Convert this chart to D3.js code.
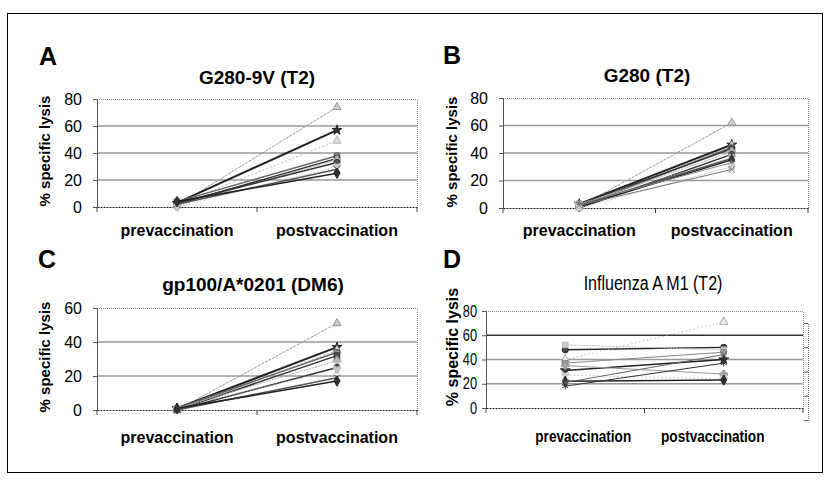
<!DOCTYPE html>
<html>
<head>
<meta charset="utf-8">
<script src="https://cdn.jsdelivr.net/npm/d3@7"></script>
<style>
  body { margin: 0; background: #fff; }
  svg { font-family: "Liberation Sans", Arial, sans-serif; }
</style>
</head>
<body>
<svg id="fig" width="830" height="480"></svg>
<script>
// categories on the x axis of every panel
var categories = ["prevaccination", "postvaccination"];

// A: G280-9V (T2)
var aPre  = [1, 3, 2, 4, 2, 1, 3, 0, 2, 4];
var aPost = [74, 57, 49, 38, 36, 35, 33, 30, 28, 25];

// B: G280 (T2)
var bPre  = [1, 3, 2, 1, 3, 2, 0, 3, 2, 1, 3, 0, 2];
var bPost = [62, 46, 45, 44, 43, 41, 39, 37, 36, 35, 33, 30, 28];

// C: gp100/A*0201 (DM6)
var cPre  = [0, 1, 0, 1, 0, 1, 0, 1, 0, 1];
var cPost = [51, 37, 35, 34, 32, 29, 25, 24, 19, 17];

// D: Influenza A M1 (T2)
var dPre  = [48, 52, 40, 37, 31, 35, 27, 22, 18, 21];
var dPost = [50, 48, 71, 46, 40, 28, 24, 23, 37, 44];

var yTicks80 = [0, 20, 40, 60, 80];
var yTicks60 = [0, 20, 40, 60];

// series looks, cycled per line (grey-scale excel style)
var looks = [
  {stroke: "#999", width: 1, dash: "3,1", sym: d3.symbolTriangle, fill: "#ccc"},
  {stroke: "#222", width: 2, dash: null, sym: d3.symbolStar, fill: "#333"},
  {stroke: "#bbb", width: 1, dash: "2,2", sym: d3.symbolTriangle, fill: "#ddd"},
  {stroke: "#666", width: 1.5, dash: null, sym: d3.symbolSquare, fill: "#888"},
  {stroke: "#333", width: 1.5, dash: null, sym: d3.symbolSquare, fill: "#555"},
  {stroke: "#aaa", width: 1, dash: "2,1", sym: d3.symbolCross, fill: "#bbb"},
  {stroke: "#333", width: 1.5, dash: null, sym: d3.symbolCircle, fill: "#555"},
  {stroke: "#bbb", width: 1, dash: "1,2", sym: d3.symbolWye, fill: "#ccc"},
  {stroke: "#555", width: 1.5, dash: null, sym: d3.symbolX, fill: "#555"},
  {stroke: "#222", width: 1.5, dash: null, sym: d3.symbolDiamond, fill: "#333"},
  {stroke: "#888", width: 1, dash: null, sym: d3.symbolAsterisk, fill: "#888"},
  {stroke: "#ccc", width: 1, dash: "2,1", sym: d3.symbolSquare, fill: "#ccc"},
  {stroke: "#777", width: 1, dash: null, sym: d3.symbolTimes, fill: "#777"}
];

var lookD = [
  {stroke: "#222", width: 1.5, dash: null, sym: d3.symbolCircle, fill: "#444"},
  {stroke: "#bbb", width: 1, dash: "2,1", sym: d3.symbolSquare, fill: "#ccc"},
  {stroke: "#aaa", width: 1, dash: "1,3", sym: d3.symbolTriangle, fill: "#eee"},
  {stroke: "#888", width: 1, dash: null, sym: d3.symbolSquare, fill: "#999"},
  {stroke: "#222", width: 1.5, dash: null, sym: d3.symbolStar, fill: "#333"},
  {stroke: "#999", width: 1, dash: null, sym: d3.symbolCross, fill: "#aaa"},
  {stroke: "#ccc", width: 1, dash: "2,2", sym: d3.symbolWye, fill: "#ccc"},
  {stroke: "#222", width: 1.5, dash: null, sym: d3.symbolDiamond, fill: "#333"},
  {stroke: "#333", width: 1, dash: null, sym: d3.symbolAsterisk, fill: "#333"},
  {stroke: "#666", width: 1, dash: null, sym: d3.symbolX, fill: "#666"}
];

var NARROW = 0.8;
var svg = d3.select("#fig");

svg.append("rect")
    .attr("x", 7.5).attr("y", 13.5)
    .attr("width", 815).attr("height", 459)
    .attr("fill", "none").attr("stroke", "#000").attr("stroke-width", 1);

function makePanel(p){
    var g = svg.append("g");
    var x = d3.scaleBand().domain(categories).range([p.left, p.right]);
    var y = d3.scaleLinear().domain([0, p.ymax]).range([p.bottom, p.top]);
    var cx = function(c){ return x(c) + x.bandwidth() / 2; };

    // grid
    g.selectAll(".grid")
        .data(p.ticks.filter(function(t){ return t > 0 && t < p.ymax; }))
        .enter().append("line")
        .attr("x1", p.left).attr("x2", p.right)
        .attr("y1", function(d){ return y(d); })
        .attr("y2", function(d){ return y(d); })
        .attr("stroke", function(d){ return p.darkGrid && d === 60 ? "#333" : "#999"; })
        .attr("stroke-width", 1.5);

    // plot frame top / right dotted
    g.append("path")
        .attr("d", "M" + p.left + "," + (y(p.ymax) + 0.5) + "H" + (p.right + 0.5) + "V" + p.bottom)
        .attr("fill", "none").attr("stroke", "#888")
        .attr("stroke-dasharray", "1,1");

    // y axis
    var pad = p.narrow ? 5 : 11;
    var ya = g.append("g")
        .attr("transform", "translate(" + p.left + ",0)")
        .call(d3.axisLeft(y).tickValues(p.ticks).tickSize(4).tickPadding(pad));
    ya.select(".domain").attr("stroke", "#555");
    ya.selectAll(".tick line").attr("stroke", "#555");
    ya.selectAll("text").attr("font-size", 16).attr("fill", "#000")
        .attr("font-family", "Liberation Sans, Arial, sans-serif");
    if (p.narrow) {
        ya.selectAll("text")
            .attr("transform", "scale(" + NARROW + ",1)")
            .attr("x", -(4 + pad) / NARROW);
    }

    // x axis
    var xa = g.append("g")
        .attr("transform", "translate(0," + p.bottom + ")")
        .call(d3.axisBottom(x).tickSize(0).tickPadding(p.catPad));
    xa.select(".domain").attr("stroke", "#222").attr("stroke-dasharray", "2,1");
    xa.selectAll("text")
        .attr("font-size", p.catSize).attr("font-weight", "bold").attr("fill", "#000")
        .attr("font-family", "Liberation Sans, Arial, sans-serif");
    if (p.narrow) {
        xa.selectAll(".tick").each(function(d, i){
            var t = d3.select(this);
            var tr = t.attr("transform");
            t.attr("transform", tr + " translate(" + p.catShift[i] + ",0) scale(" + NARROW + ",1)");
        });
    }
    g.selectAll(".ctick")
        .data([p.left, (p.left + p.right) / 2, p.right])
        .enter().append("line")
        .attr("x1", function(d){ return d; }).attr("x2", function(d){ return d; })
        .attr("y1", p.bottom).attr("y2", p.bottom + 5)
        .attr("stroke", "#444");

    // lines
    var series = p.pre.map(function(v, i){
        return [{c: categories[0], v: v}, {c: categories[1], v: p.post[i]}];
    });
    var line = d3.line()
        .x(function(d){ return cx(d.c); })
        .y(function(d){ return y(d.v); });

    series.forEach(function(s, i){
        var lk = p.looks[i % p.looks.length];
        g.append("path")
            .datum(s)
            .attr("fill", "none")
            .attr("stroke", lk.stroke)
            .attr("stroke-width", lk.width)
            .attr("stroke-dasharray", lk.dash)
            .attr("d", line);
        g.selectAll(null)
            .data(s)
            .enter().append("path")
            .attr("transform", function(d){ return "translate(" + cx(d.c) + "," + y(d.v) + ")"; })
            .attr("d", d3.symbol().type(lk.sym).size(30))
            .attr("fill", lk.fill)
            .attr("stroke", lk.stroke)
            .attr("stroke-width", 1);
    });

    // axis title
    svg.append("text")
        .attr("transform", "translate(" + p.ylabX + "," + p.ylabY + ") rotate(-90)")
        .attr("text-anchor", "middle")
        .attr("font-size", p.narrow ? 16 : 15).attr("font-weight", "bold")
        .text("% specific lysis");

    // chart title
    svg.append("text")
        .attr("transform", "translate(" + p.titleX + "," + p.titleY + ")" +
            (p.narrow ? " scale(" + NARROW + ",1)" : ""))
        .attr("text-anchor", "middle")
        .attr("font-size", p.narrow ? 20 : 19)
        .attr("font-weight", p.narrow ? "normal" : "bold")
        .text(p.title);

    // panel letter
    svg.append("text")
        .attr("x", p.letterX).attr("y", p.letterY)
        .attr("font-size", 25).attr("font-weight", "bold")
        .text(p.letter);

    if (p.extraAxis) {
        var y2 = d3.scaleLinear().domain([0, 80]).range([420, 323]);
        var ea = g.append("g")
            .attr("transform", "translate(808,0)")
            .call(d3.axisLeft(y2).tickValues(yTicks80).tickSize(4).tickFormat(""));
        ea.select(".domain").attr("stroke", "#777").attr("stroke-dasharray", "1,1");
        ea.selectAll(".tick line").attr("stroke", "#555");
    }
}

makePanel({letter: "A", title: "G280-9V (T2)", pre: aPre, post: aPost, looks: looks,
    left: 97, right: 417, top: 99, bottom: 207, ymax: 80, ticks: yTicks80,
    catPad: 18, catSize: 16, ylabX: 50, ylabY: 151, titleX: 257, titleY: 84,
    letterX: 39, letterY: 65});
makePanel({letter: "B", title: "G280 (T2)", pre: bPre, post: bPost, looks: looks,
    left: 503, right: 808, top: 98, bottom: 208, ymax: 80, ticks: yTicks80,
    catPad: 17, catSize: 16, ylabX: 457, ylabY: 152, titleX: 647, titleY: 82,
    letterX: 443, letterY: 64});
makePanel({letter: "C", title: "gp100/A*0201 (DM6)", pre: cPre, post: cPost, looks: looks,
    left: 97, right: 417, top: 308, bottom: 410, ymax: 60, ticks: yTicks60,
    catPad: 22, catSize: 16, ylabX: 50, ylabY: 357, titleX: 253, titleY: 291,
    letterX: 38, letterY: 268});
makePanel({letter: "D", title: "Influenza A M1 (T2)", pre: dPre, post: dPost, looks: lookD,
    left: 486, right: 803, top: 311, bottom: 408, ymax: 80, ticks: yTicks80,
    catPad: 22, catSize: 17, catShift: [18, -11], ylabX: 458, ylabY: 347, titleX: 653, titleY: 290,
    letterX: 443, letterY: 268, narrow: true, darkGrid: true, extraAxis: true});
</script>
</body>
</html>
